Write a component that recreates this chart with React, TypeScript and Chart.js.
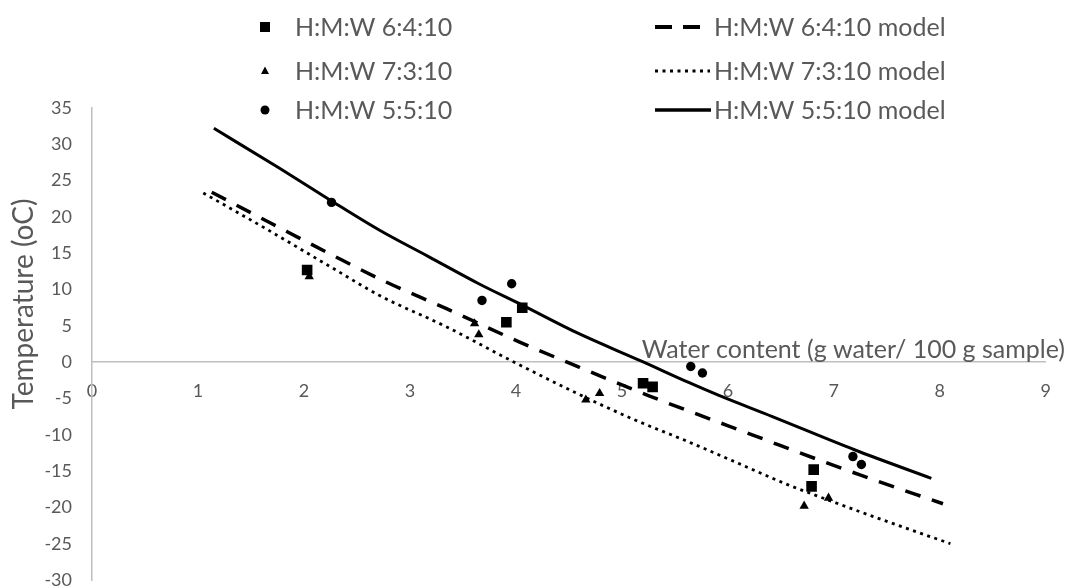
import React, { useEffect, useRef } from 'react';
import { Chart, registerables } from 'chart.js';

Chart.register(...registerables);

// ---- data ----
const xTitle = 'Water content (g water/ 100 g sample)';
const yTitle = 'Temperature (oC)';
const seriesNames = ['H:M:W 6:4:10', 'H:M:W 7:3:10', 'H:M:W 5:5:10'];
const modelNames = ['H:M:W 6:4:10 model', 'H:M:W 7:3:10 model', 'H:M:W 5:5:10 model'];

const xMin = 0;
const xMax = 9;
const xStep = 1;
const yMin = -30;
const yMax = 35;
const yStep = 5;

// measured points
const w6410X = [2.03, 3.91, 4.06, 5.2, 5.29, 6.79, 6.81];
const w6410Y = [12.7, 5.5, 7.5, -2.9, -3.4, -17.1, -14.8];
const w7310X = [2.05, 3.61, 3.65, 4.66, 4.79, 6.72, 6.95];
const w7310Y = [11.8, 5.3, 3.8, -5.2, -4.3, -19.8, -18.7];
const w5510X = [2.26, 3.68, 3.96, 5.65, 5.76, 7.18, 7.26];
const w5510Y = [22.0, 8.5, 10.8, -0.6, -1.5, -13.0, -14.1];

// model curves
const m6410X = [1.13, 1.68, 2.34, 2.78, 3.34, 4.03, 4.5, 5.25, 5.79, 6.23, 6.48, 7.26, 8.03];
const m6410Y = [23.4, 19.2, 14.2, 11.0, 7.4, 2.8, -0.1, -4.6, -7.6, -10.0, -11.4, -15.6, -19.5];
const m7310X = [1.05, 1.65, 2.3, 2.71, 3.34, 3.97, 4.59, 5.13, 5.6, 6.0, 6.57, 6.95, 7.36, 8.1];
const m7310Y = [23.3, 18.3, 12.7, 9.2, 4.9, 0.1, -4.4, -8.0, -10.8, -13.3, -16.9, -19.0, -21.2, -25.0];
const m5510X = [1.15, 1.77, 2.26, 2.71, 3.18, 3.65, 4.06, 4.59, 5.19, 5.63, 5.91, 6.42, 7.2, 7.92];
const m5510Y = [32.2, 26.7, 22.2, 18.2, 14.5, 10.8, 7.85, 3.95, 0.1, -2.8, -4.55, -7.5, -12.1, -16.0];

const zip = (xs: number[], ys: number[]) => xs.map((x, i) => ({ x, y: ys[i] }));

const FONT = 'Lato, "Open Sans", sans-serif';
const GREY = '#595959';
const AXIS = '#bfbfbf';

const DASH = [16, 12];
const DOT = [3, 4.5];

const overlayPlugin = {
  id: 'overlay',
  afterDraw(chart: any) {
    const ctx: CanvasRenderingContext2D = chart.ctx;
    ctx.save();
    // axis titles
    ctx.fillStyle = GREY;
    ctx.font = `25px ${FONT}`;
    ctx.textAlign = 'right';
    ctx.textBaseline = 'middle';
    ctx.fillText(xTitle, 1065, 350);
    ctx.save();
    ctx.translate(24, 304);
    ctx.rotate(-Math.PI / 2);
    ctx.textAlign = 'center';
    ctx.font = `28px ${FONT}`;
    ctx.fillText(yTitle, 0, 0);
    ctx.restore();

    // legend
    const rows = [27, 71, 110];
    ctx.font = `25px ${FONT}`;
    ctx.textAlign = 'left';
    ctx.textBaseline = 'middle';
    rows.forEach((ry, i) => {
      // marker
      ctx.fillStyle = '#000';
      const mx = 265;
      ctx.beginPath();
      if (i === 0) {
        ctx.rect(mx - 5, ry - 5, 10, 10);
      } else if (i === 1) {
        ctx.moveTo(mx, ry - 4.5);
        ctx.lineTo(mx + 4, ry + 3);
        ctx.lineTo(mx - 4, ry + 3);
        ctx.closePath();
      } else {
        ctx.arc(mx, ry, 4.5, 0, Math.PI * 2);
      }
      ctx.fill();
      ctx.fillStyle = GREY;
      ctx.fillText(seriesNames[i], 295, ry + 1);

      // model line sample
      ctx.strokeStyle = '#000';
      ctx.beginPath();
      if (i === 0) {
        ctx.lineWidth = 4;
        ctx.setLineDash([17, 11]);
        ctx.moveTo(655, ry);
        ctx.lineTo(700, ry);
      } else if (i === 1) {
        ctx.lineWidth = 3;
        ctx.setLineDash(DOT);
        ctx.moveTo(655, ry);
        ctx.lineTo(710, ry);
      } else {
        ctx.lineWidth = 3.5;
        ctx.setLineDash([]);
        ctx.moveTo(655, ry);
        ctx.lineTo(711, ry);
      }
      ctx.stroke();
      ctx.setLineDash([]);
      ctx.fillStyle = GREY;
      ctx.fillText(modelNames[i], 714, ry + 1);
    });
    ctx.restore();
  },
};

export default function App() {
  const ref = useRef<HTMLCanvasElement | null>(null);

  useEffect(() => {
    document.body.style.margin = '0';
    const canvas = ref.current;
    if (!canvas) return;
    const chart = new Chart(canvas, {
      type: 'scatter',
      data: {
        datasets: [
          {
            label: seriesNames[0],
            data: zip(w6410X, w6410Y),
            pointStyle: 'rect',
            pointRadius: 7.5,
            backgroundColor: '#000',
            borderColor: '#000',
            borderWidth: 0,
            showLine: false,
          },
          {
            label: seriesNames[1],
            data: zip(w7310X, w7310Y),
            pointStyle: 'triangle',
            pointRadius: 5.4,
            backgroundColor: '#000',
            borderColor: '#000',
            borderWidth: 0,
            showLine: false,
          },
          {
            label: seriesNames[2],
            data: zip(w5510X, w5510Y),
            pointStyle: 'circle',
            pointRadius: 4.7,
            backgroundColor: '#000',
            borderColor: '#000',
            borderWidth: 0,
            showLine: false,
          },
          {
            label: modelNames[0],
            data: zip(m6410X, m6410Y),
            showLine: true,
            pointRadius: 0,
            borderColor: '#000',
            borderWidth: 3.5,
            borderDash: DASH,
            cubicInterpolationMode: 'monotone',
          },
          {
            label: modelNames[1],
            data: zip(m7310X, m7310Y),
            showLine: true,
            pointRadius: 0,
            borderColor: '#000',
            borderWidth: 2.8,
            borderDash: DOT,
            cubicInterpolationMode: 'monotone',
          },
          {
            label: modelNames[2],
            data: zip(m5510X, m5510Y),
            showLine: true,
            pointRadius: 0,
            borderColor: '#000',
            borderWidth: 3,
            cubicInterpolationMode: 'monotone',
          },
        ],
      },
      options: {
        responsive: false,
        animation: false,
        layout: { padding: { top: 108, right: 23, bottom: 8, left: 0 } },
        plugins: {
          legend: { display: false },
          tooltip: { enabled: false },
        },
        scales: {
          x: {
            type: 'linear',
            position: { y: 0 } as any,
            min: xMin,
            max: xMax,
            grid: { display: false, drawTicks: false },
            border: { display: true, color: AXIS, width: 1.5 },
            ticks: {
              stepSize: xStep,
              color: GREY,
              padding: 18,
              font: { family: FONT, size: 18 },
            },
          },
          y: {
            type: 'linear',
            position: 'left',
            min: yMin,
            max: yMax,
            grid: { display: false, drawTicks: false },
            border: { display: true, color: AXIS, width: 1.5 },
            ticks: {
              stepSize: yStep,
              color: GREY,
              padding: 20,
              font: { family: FONT, size: 18 },
            },
            afterFit: (scale: any) => {
              scale.width = 92;
              scale.paddingTop = 0;
              scale.paddingBottom = 0;
            },
          },
        },
      },
      plugins: [overlayPlugin],
    });
    return () => chart.destroy();
  }, []);

  return <canvas ref={ref} width={1069} height={588} style={{ display: 'block' }} />;
}
